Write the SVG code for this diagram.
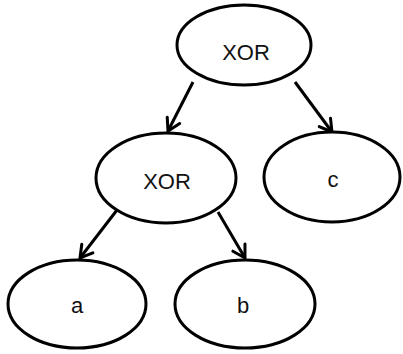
<svg xmlns="http://www.w3.org/2000/svg" width="403" height="354" viewBox="0 0 403 354">
<style>
.node ellipse{fill:#fff;stroke:#000;stroke-width:3}
.node text{font-family:"Liberation Sans",Arial,sans-serif;font-size:22px;fill:#111;text-anchor:middle}
.edge{stroke:#000;stroke-width:3;fill:none;marker-end:url(#arrow)}
</style>
<defs>
<marker id="arrow" markerUnits="userSpaceOnUse" viewBox="-16 -10 20 20" refX="0" refY="0" markerWidth="20" markerHeight="20" orient="auto">
<path d="M -12 -7 L 0 0 L -12 7" fill="none" stroke="#000" stroke-width="3" stroke-linecap="round" stroke-linejoin="miter"/>
</marker>
</defs>
<rect width="403" height="354" fill="#fff"/>
<g id="connectors">
<line class="edge" x1="193" y1="82" x2="168" y2="131"/>
<line class="edge" x1="295" y1="82" x2="332" y2="132"/>
<line class="edge" x1="117" y1="210" x2="80" y2="258"/>
<line class="edge" x1="218" y1="212" x2="245" y2="258"/>
</g>
<g id="xor-top" class="node">
<ellipse cx="244" cy="45" rx="67" ry="40"/>
<text x="246" y="60">XOR</text>
</g>
<g id="xor-mid" class="node">
<ellipse cx="166" cy="178" rx="70" ry="45"/>
<text x="167" y="189">XOR</text>
</g>
<g id="c" class="node">
<ellipse cx="332" cy="177" rx="68" ry="45"/>
<text x="333" y="187">c</text>
</g>
<g id="a" class="node">
<ellipse cx="77" cy="304" rx="69" ry="44"/>
<text x="77" y="313">a</text>
</g>
<g id="b" class="node">
<ellipse cx="245" cy="304" rx="70" ry="44"/>
<text x="243" y="313">b</text>
</g>
</svg>
